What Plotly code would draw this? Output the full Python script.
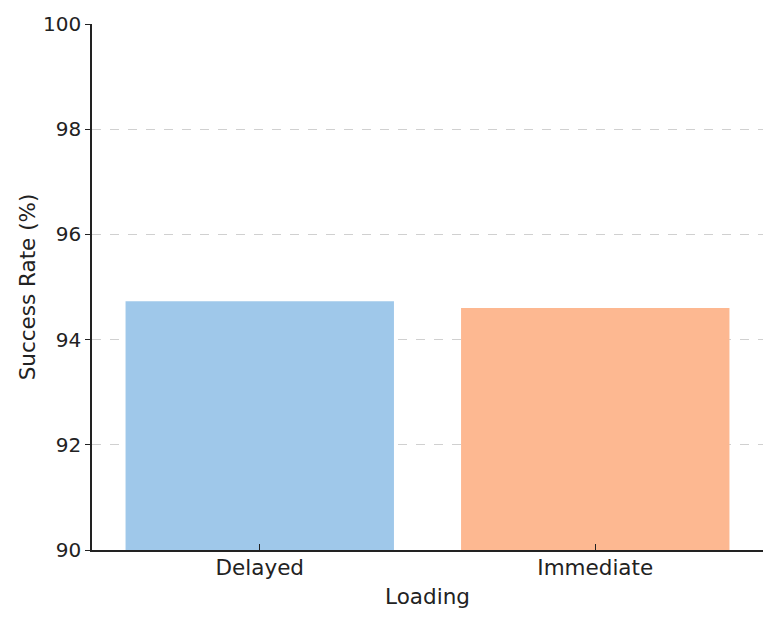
import plotly.graph_objects as go

categories = ["Delayed", "Immediate"]
success_rates = [94.73, 94.6]
bar_colors = ["#9fc8ea", "#fdb891"]
y_ticks = [90, 92, 94, 96, 98, 100]

fig = go.Figure()
fig.add_trace(go.Bar(
    x=categories, y=success_rates,
    marker=dict(color=bar_colors, line=dict(width=0)),
    width=0.8,
))

font_family = "DejaVu Sans"
fig.update_layout(
    width=775, height=617,
    margin=dict(l=84, r=20, t=16, b=75),
    plot_bgcolor="white", paper_bgcolor="white",
    font=dict(family=font_family, size=21, color="#222222"),
    showlegend=False,
    bargap=0.2,
)
fig.update_xaxes(
    title=dict(text="Loading", font=dict(size=21.5), standoff=10),
    range=[-0.5, 1.5],
    automargin=False,
    showline=True, linecolor="#222222", linewidth=1.5,
    ticks="inside", ticklen=6, tickwidth=1.2, tickcolor="#222222",
    tickfont=dict(size=21.5),
    ticklabelstandoff=-3,
    showgrid=False, mirror=False,
)
fig.update_yaxes(
    title=dict(text="Success Rate (%)", font=dict(size=21.5), standoff=2),
    range=[90, 100],
    tickvals=y_ticks,
    automargin=False,
    showline=True, linecolor="#222222", linewidth=1.5,
    ticks="outside", ticklen=5, tickwidth=1.2, tickcolor="#222222",
    showgrid=True, gridcolor="#d0d0d0", griddash="dash", gridwidth=1,
    zeroline=False,
    tickfont=dict(size=20),
)
fig.write_html("out.html")
